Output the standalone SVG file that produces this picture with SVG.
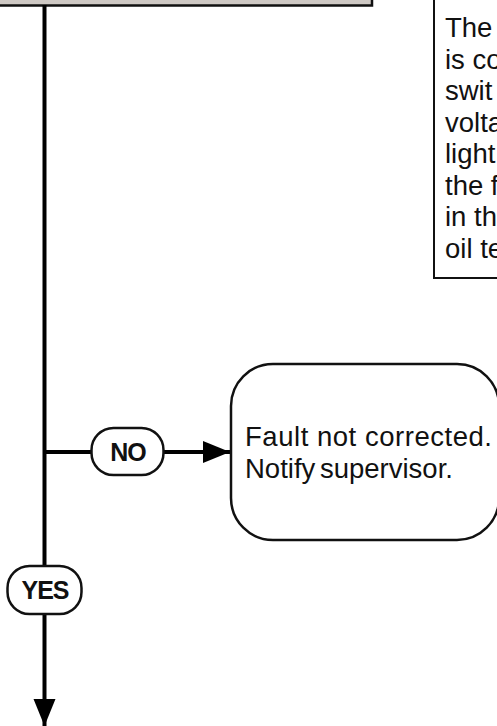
<svg xmlns="http://www.w3.org/2000/svg" width="497" height="726" viewBox="0 0 497 726">
<style>
.txt{font-family:"Liberation Sans",Arial,sans-serif;font-size:27.5px;fill:#111}
.lbl{font-family:"Liberation Sans",Arial,sans-serif;font-size:25px;font-weight:bold;letter-spacing:-1px;fill:#111;text-anchor:middle}
.box{stroke:#111;stroke-width:2.5}
.wire{stroke:#000;stroke-width:4;fill:none}
</style>
<defs>
<marker id="ah" markerUnits="userSpaceOnUse" markerWidth="28" markerHeight="24" refX="27" refY="11" orient="auto">
<polygon points="0,0 27,11 0,22" fill="#000"/>
</marker>
</defs>
<rect width="497" height="726" fill="#fff"/>
<g id="top-box">
<rect class="box" x="-10" y="-30" width="382" height="35.5" fill="#cfc9c4"/>
</g>
<g id="note">
<rect x="434" y="-20" width="80" height="298" fill="#fff" stroke="#111" stroke-width="2"/>
<text class="txt" x="445" y="37">The</text>
<text class="txt" x="445" y="68.5">is co</text>
<text class="txt" x="445" y="100">swit</text>
<text class="txt" x="445" y="131.5">volta</text>
<text class="txt" x="445" y="163">light</text>
<text class="txt" x="445" y="194.5">the f</text>
<text class="txt" x="445" y="226">in th</text>
<text class="txt" x="445" y="257.5">oil te</text>
</g>
<g id="connectors">
<line class="wire" x1="44.5" y1="5" x2="44.5" y2="726" marker-end="url(#ah)"/>
<line class="wire" x1="44.5" y1="452" x2="230" y2="452" marker-end="url(#ah)"/>
</g>
<g id="fault">
<rect class="box" x="231" y="364" width="268" height="176" rx="42" ry="42" fill="#fff"/>
<text class="txt" x="245" y="446" textLength="247" lengthAdjust="spacing">Fault not corrected.</text>
<text class="txt" x="245" y="478" word-spacing="-3">Notify supervisor.</text>
</g>
<g id="no-label">
<rect class="box" x="91.5" y="428" width="72" height="47" rx="22" ry="22" fill="#fff"/>
<text class="lbl" x="128" y="461">NO</text>
</g>
<g id="yes-label">
<rect class="box" x="7.5" y="566" width="74" height="48" rx="22" ry="22" fill="#fff"/>
<text class="lbl" x="45" y="599">YES</text>
</g>
</svg>
